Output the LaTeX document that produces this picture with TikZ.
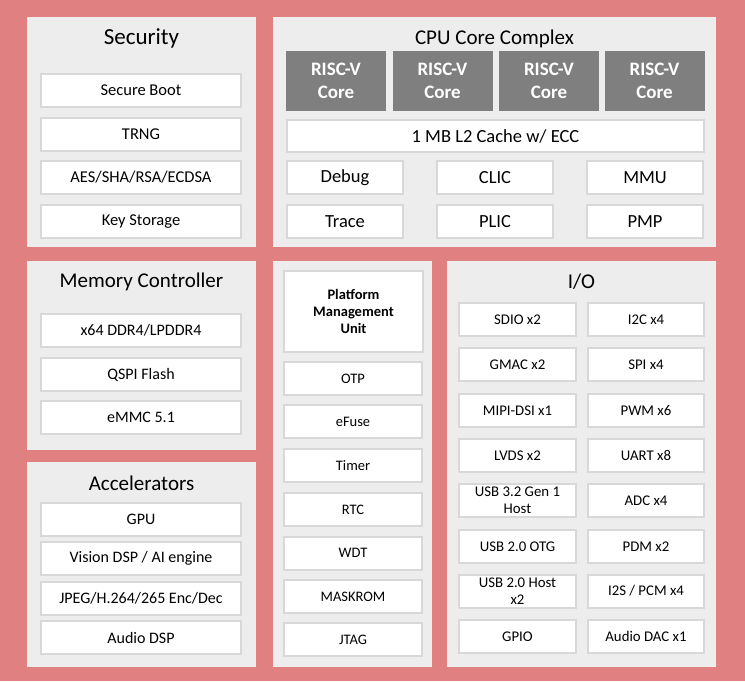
\documentclass[tikz,border=0pt]{standalone}
\usepackage{fontspec}
\setmainfont{Carlito}
\usepackage{tikz}

\definecolor{socpink}{RGB}{224,128,128}
\definecolor{panelgray}{RGB}{237,237,237}
\definecolor{blkborder}{RGB}{216,216,216}
\definecolor{coregray}{RGB}{127,127,127}

\begin{document}
\begin{tikzpicture}[
  x=1pt, y=-1pt,
  panel/.style={rectangle, fill=panelgray, inner sep=0pt},
  paneltitle/.style={inner sep=0pt, font=\fontsize{21}{25}\selectfont},
  blk/.style={
    rectangle, draw=blkborder, fill=white,
    line width=2pt, inner sep=1pt, align=center,
    minimum height=33pt,
    font=\fontsize{16}{19}\selectfont
  },
  wideblk/.style={blk, minimum width=200pt},
  cpublk/.style={blk, minimum width=116pt, font=\fontsize{18.5}{22}\selectfont},
  pmublk/.style={blk, minimum width=138pt, font=\fontsize{14.5}{17}\selectfont},
  ioblk/.style={blk, minimum width=116pt, font=\fontsize{14.8}{17.3}\selectfont},
  coreblk/.style={
    rectangle, fill=coregray, text=white, align=center,
    minimum width=100pt, minimum height=60pt, inner sep=0pt,
    font=\bfseries\fontsize{19}{22.5}\selectfont
  }
]

% =========================================================================
% Hintergrund
% =========================================================================
\fill[socpink] (0,0) rectangle (745,681);
\useasboundingbox (0,0) rectangle (745,681);

% =========================================================================
% Security
% =========================================================================
\node[panel, minimum width=229pt, minimum height=230pt] (sec) at (141.5,132) {};
\node[paneltitle, font=\fontsize{23}{27}\selectfont] (sectitle) at (141.5,38) {Security};

\node[wideblk, font=\fontsize{16.5}{19}\selectfont] (secboot)  at (141,90.5)  {Secure Boot};
\node[wideblk, font=\fontsize{16.5}{19}\selectfont] (trng)     at (141,134.5) {TRNG};
\node[wideblk, font=\fontsize{16.5}{19}\selectfont] (crypto)   at (141,177.5) {AES/SHA/RSA/ECDSA};
\node[wideblk, font=\fontsize{16.5}{19}\selectfont] (keystore) at (141,221.5) {Key Storage};

% =========================================================================
% CPU Core Complex
% =========================================================================
\node[panel, minimum width=443pt, minimum height=230pt] (cpu) at (494.5,132) {};
\node[paneltitle] (cputitle) at (494.5,39) {CPU Core Complex};

\node[coreblk] (core1) at (336,81)   {RISC-V\\Core};
\node[coreblk] (core2) at (442.5,81) {RISC-V\\Core};
\node[coreblk] (core3) at (549,81)   {RISC-V\\Core};
\node[coreblk] (core4) at (654.5,81) {RISC-V\\Core};

\node[cpublk, minimum width=417pt, minimum height=32pt] (ltwo) at (495.5,136) {1 MB L2 Cache w/ ECC};

\node[cpublk] (debug) at (345,177.5) {Debug};
\node[cpublk] (clic)  at (495,177.5) {CLIC};
\node[cpublk] (mmu)   at (645,177.5) {MMU};
\node[cpublk] (trace) at (345,221.5) {Trace};
\node[cpublk] (plic)  at (495,221.5) {PLIC};
\node[cpublk] (pmp)   at (645,221.5) {PMP};

% =========================================================================
% Memory Controller
% =========================================================================
\node[panel, minimum width=229pt, minimum height=189pt] (memctl) at (141.5,355.5) {};
\node[paneltitle] (memtitle) at (141.5,282) {Memory Controller};

\node[wideblk] (ddr)  at (141,330.5) {x64 DDR4/LPDDR4};
\node[wideblk] (qspi) at (141,374.5) {QSPI Flash};
\node[wideblk] (emmc) at (141,417.5) {eMMC 5.1};

% =========================================================================
% Accelerators
% =========================================================================
\node[panel, minimum width=229pt, minimum height=205pt] (accel) at (141.5,564.5) {};
\node[paneltitle] (acceltitle) at (141.5,483) {Accelerators};

\node[wideblk] (gpu)   at (141,519.5) {GPU};
\node[wideblk] (vdsp)  at (141,558.5) {Vision DSP / AI engine};
\node[wideblk] (codec) at (141,598)   {JPEG/H.264/265 Enc/Dec};
\node[wideblk] (adsp)  at (141,637.5) {Audio DSP};

% =========================================================================
% Platform Management Unit
% =========================================================================
\node[panel, minimum width=159pt, minimum height=406pt] (pmu) at (352.5,464) {};

\node[blk, minimum width=139pt, minimum height=81pt,
      font=\bfseries\fontsize{14.5}{17.3}\selectfont] (pmuhead) at (353.5,311.5)
  {Platform\\Management\\Unit};

\node[pmublk] (otp)     at (353,378.5) {OTP};
\node[pmublk] (efuse)   at (353,421.5) {eFuse};
\node[pmublk] (timer)   at (353,465.5) {Timer};
\node[pmublk] (rtc)     at (353,509.5) {RTC};
\node[pmublk] (wdt)     at (353,553)   {WDT};
\node[pmublk] (maskrom) at (353,596.5) {MASKROM};
\node[pmublk] (jtag)    at (353,639.5) {JTAG};

% =========================================================================
% I/O
% =========================================================================
\node[panel, minimum width=269pt, minimum height=406pt] (io) at (581.5,464) {};
\node[paneltitle] (iotitle) at (581.5,282) {I/O};

% linke Spalte
\node[ioblk, minimum width=117pt] (sdio)     at (517.5,319.5) {SDIO x2};
\node[ioblk, minimum width=117pt] (gmac)     at (517.5,364.5) {GMAC x2};
\node[ioblk, minimum width=117pt] (mipi)     at (517.5,410.5) {MIPI-DSI x1};
\node[ioblk, minimum width=117pt] (lvds)     at (517.5,455.5) {LVDS x2};
\node[ioblk, minimum width=117pt] (usbthree) at (517.5,500.5) {USB 3.2 Gen 1\\Host};
\node[ioblk, minimum width=117pt] (usbotg)   at (517.5,546.5) {USB 2.0 OTG};
\node[ioblk, minimum width=117pt] (usbhost)  at (517.5,591)   {USB 2.0 Host\\x2};
\node[ioblk, minimum width=117pt] (gpio)     at (517.5,636.5) {GPIO};

% rechte Spalte
\node[ioblk] (itwoc) at (646,319.5) {I2C x4};
\node[ioblk] (spi)   at (646,364.5) {SPI x4};
\node[ioblk] (pwm)   at (646,410.5) {PWM x6};
\node[ioblk] (uart)  at (646,455.5) {UART x8};
\node[ioblk] (adc)   at (646,500.5) {ADC x4};
\node[ioblk] (pdm)   at (646,546.5) {PDM x2};
\node[ioblk] (itwos) at (646,591)   {I2S / PCM x4};
\node[ioblk] (dac)   at (646,636.5) {Audio DAC x1};

\end{tikzpicture}
\end{document}
